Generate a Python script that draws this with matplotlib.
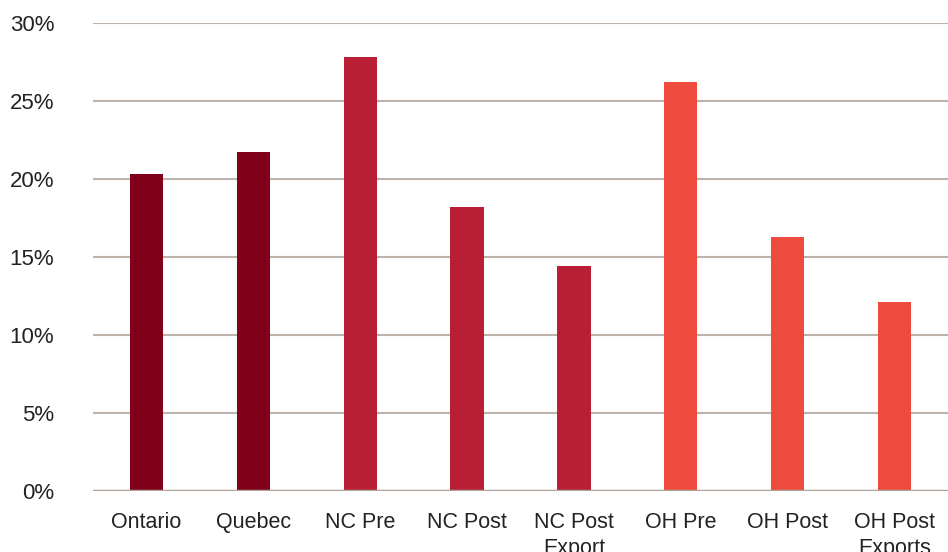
import matplotlib
matplotlib.use("Agg")
import matplotlib.pyplot as plt
import numpy as np

categories = ["Ontario", "Quebec", "NC Pre", "NC Post", "NC Post\nExport",
              "OH Pre", "OH Post", "OH Post\nExports"]
values = [20.3, 21.7, 27.8, 18.2, 14.4, 26.2, 16.3, 12.1]
colors = ["#80001a", "#80001a", "#b81f35", "#b81f35", "#b81f35",
          "#ee4b3e", "#ee4b3e", "#ee4b3e"]
yticks = [0, 5, 10, 15, 20, 25, 30]

plt.rcParams["font.family"] = ["Liberation Sans", "DejaVu Sans"]

fig = plt.figure(figsize=(9.48, 5.52), dpi=100)
ax = fig.add_axes([93 / 948, 1 - 491 / 552, (948 - 93) / 948, (491 - 23) / 552])

x = np.arange(len(categories))
ax.bar(x, values, width=0.31, color=colors, zorder=3)

ax.set_xlim(-0.5, len(categories) - 0.5)
ax.set_ylim(0, 30)
ax.set_yticks(yticks)
ax.set_yticklabels([f"{t}%" for t in yticks], fontsize=16)
ax.set_xticks(x)
ax.set_xticklabels(categories, linespacing=1.35, va="top", fontsize=15.5)

for t in yticks[1:]:
    ax.axhline(t, color="#bdb3aa", lw=1.5, zorder=1)
ax.axhline(0, color="#b0a49a", lw=2.5, zorder=4)

for s in ax.spines.values():
    s.set_visible(False)
ax.tick_params(axis="both", length=0, colors="#222222")
ax.tick_params(axis="y", pad=28)
ax.tick_params(axis="x", pad=15)

fig.savefig("out.png", dpi=100)
